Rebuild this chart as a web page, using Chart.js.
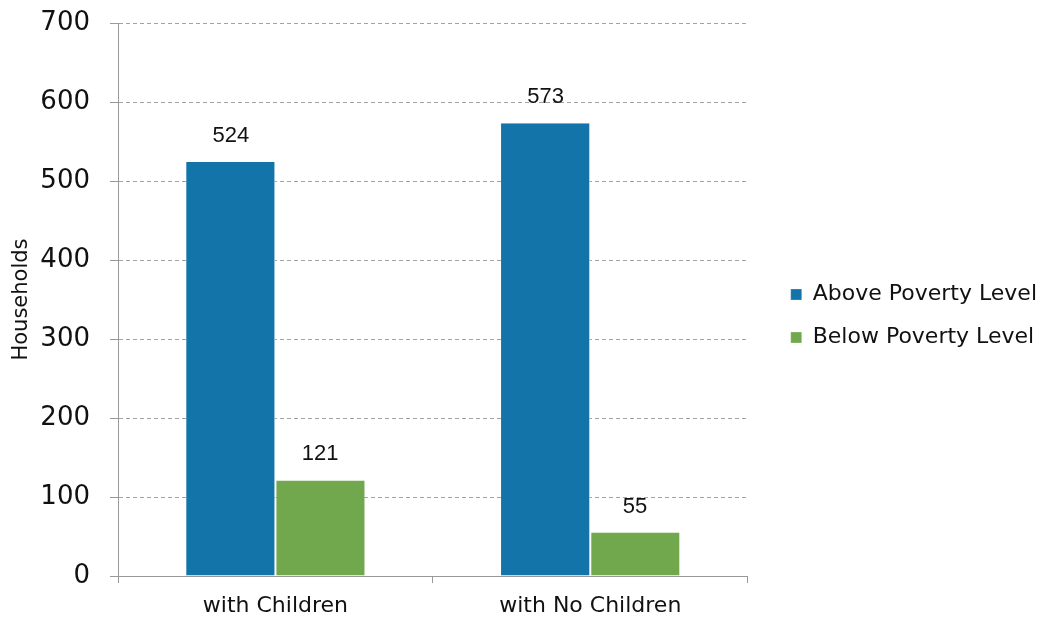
<!DOCTYPE html>
<html>
<head>
<meta charset="utf-8">
<script src="https://cdn.jsdelivr.net/npm/chart.js@4/dist/chart.umd.min.js"></script>
<style>
  html, body { margin: 0; padding: 0; background: #fff; }
  #wrap { width: 1047px; height: 618px; }
</style>
</head>
<body>
<div id="wrap"><canvas id="povertyChart"></canvas></div>
<script>
const categories = ['with Children', 'with No Children'];
const aboveValues = [524, 573];
const belowValues = [121, 55];
const seriesLabels = ['Above Poverty Level', 'Below Poverty Level'];
const yTicks = [0, 100, 200, 300, 400, 500, 600, 700];

const FONT = "'DejaVu Sans', 'Liberation Sans', sans-serif";

// draws the value above each bar
const barValues = {
    id: 'barValues',
    afterDatasetsDraw(chart) {
        const ctx = chart.ctx;
        ctx.save();
        ctx.font = "22px 'Liberation Sans', Arial, sans-serif";
        ctx.fillStyle = '#111';
        ctx.textAlign = 'center';
        ctx.textBaseline = 'bottom';
        chart.data.datasets.forEach((ds, i) => {
            chart.getDatasetMeta(i).data.forEach((bar, j) => {
                ctx.fillText(ds.data[j], bar.x, bar.y - 15);
            });
        });
        ctx.restore();
    }
};

new Chart(document.getElementById('povertyChart'), {
    type: 'bar',
    data: {
        labels: categories,
        datasets: [
            {
                label: seriesLabels[0],
                data: aboveValues,
                backgroundColor: '#1274a8',
                borderColor: '#ffffff',
                borderWidth: { left: 0, right: 1, top: 0, bottom: 0 },
                borderSkipped: false
            },
            {
                label: seriesLabels[1],
                data: belowValues,
                backgroundColor: '#71a84e',
                borderColor: '#ffffff',
                borderWidth: { left: 1, right: 0, top: 0, bottom: 0 },
                borderSkipped: false
            }
        ]
    },
    options: {
        responsive: true,
        maintainAspectRatio: false,
        animation: false,
        layout: { padding: 0 },
        datasets: {
            bar: { categoryPercentage: 0.567, barPercentage: 1 }
        },
        scales: {
            x: {
                grid: {
                    offset: true,
                    drawOnChartArea: false,
                    tickLength: 7,
                    tickColor: '#999',
                    tickWidth: 1
                },
                border: { color: '#999', width: 1 },
                ticks: {
                    color: '#111',
                    font: { family: FONT, size: 22 },
                    padding: 10
                },
                afterFit: scale => { scale.height = 42; }
            },
            y: {
                min: 0,
                max: 700,
                afterBuildTicks: axis => {
                    axis.ticks = yTicks.map(v => ({ value: v }));
                },
                grid: {
                    color: '#a3a3a3',
                    tickBorderDash: [],
                    tickColor: '#999',
                    tickLength: 8,
                    lineWidth: 1
                },
                border: { color: '#999', width: 1, dash: [4, 3] },
                ticks: {
                    color: '#111',
                    font: { family: FONT, size: 26 },
                    padding: 20
                },
                title: {
                    display: true,
                    text: 'Households',
                    color: '#111',
                    font: { family: FONT, size: 21 },
                    padding: { top: 9, bottom: 0 }
                },
                afterFit: scale => {
                    scale.width = 118;
                    scale.paddingTop = 23;
                    scale.paddingBottom = 0;
                }
            },
            // empty spacer between the plot and the legend
            gap: {
                type: 'linear',
                position: 'right',
                grid: { display: false },
                border: { display: false },
                ticks: { display: false },
                afterFit: scale => { scale.width = 22; }
            }
        },
        plugins: {
            legend: {
                position: 'right',
                align: 'center',
                maxWidth: 320,
                // blank title only nudges the items down a little
                title: { display: true, text: ' ', font: { size: 10 }, padding: 1 },
                labels: {
                    color: '#111',
                    font: { family: FONT, size: 22 },
                    boxWidth: 11,
                    boxHeight: 11,
                    padding: 21
                }
            },
            tooltip: { enabled: false }
        }
    },
    plugins: [barValues]
});
</script>
</body>
</html>
